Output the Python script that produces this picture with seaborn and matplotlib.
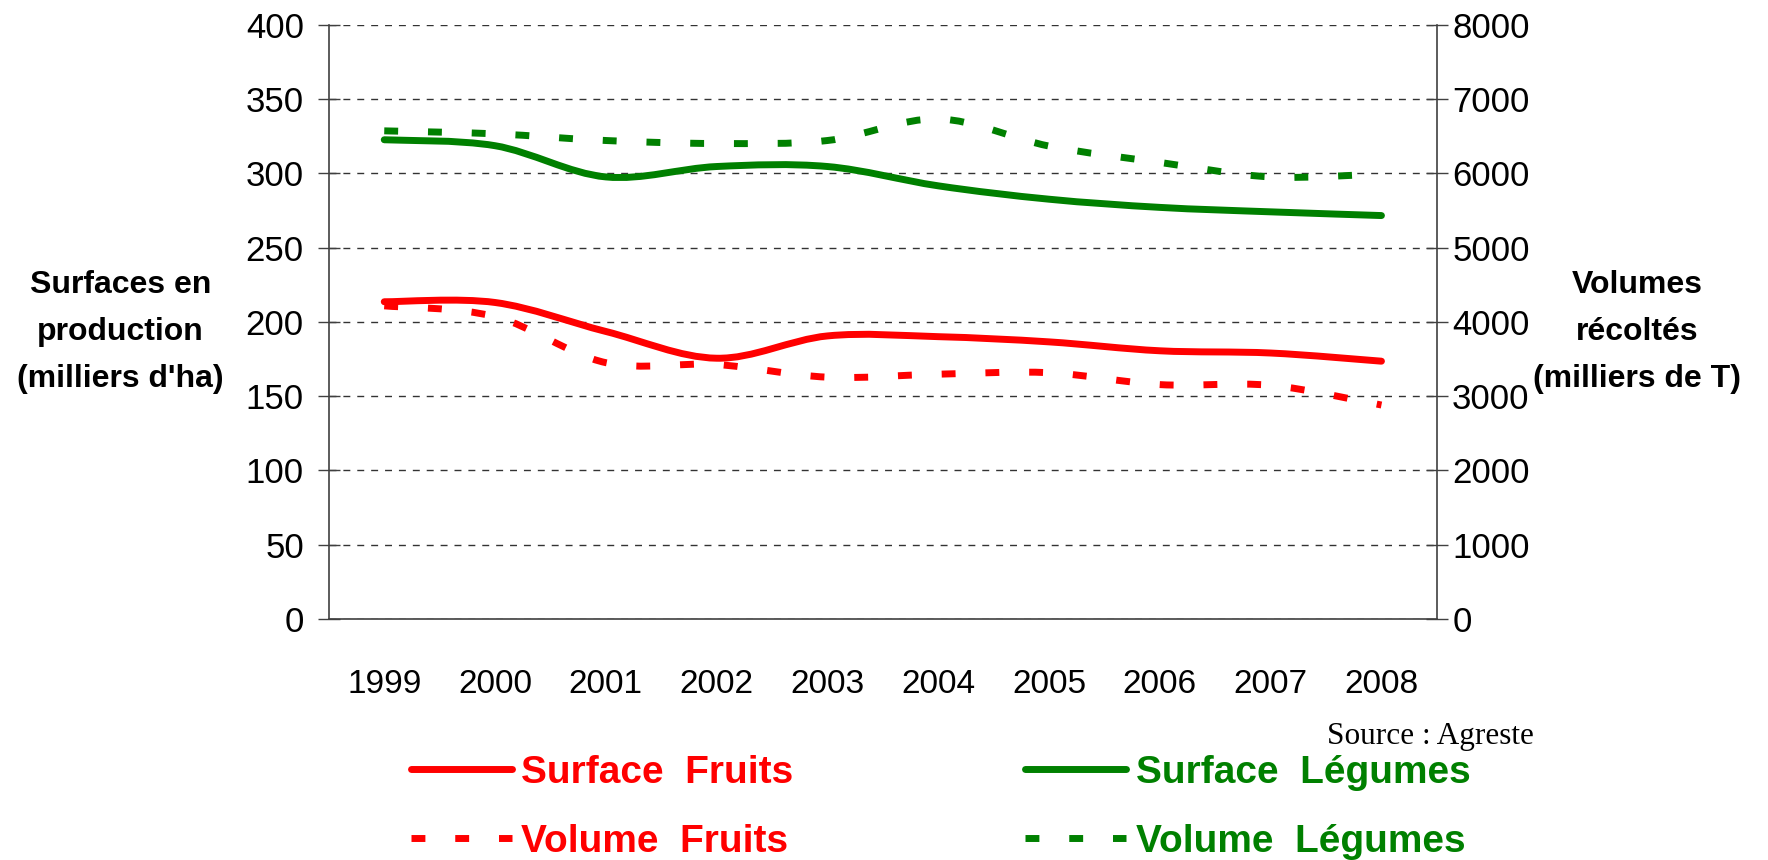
import numpy as np
import matplotlib
matplotlib.use("Agg")
import matplotlib.pyplot as plt
import seaborn as sns
from matplotlib.path import Path
from matplotlib.patches import PathPatch
from matplotlib.lines import Line2D

# valeurs
years = ["1999", "2000", "2001", "2002", "2003", "2004", "2005", "2006", "2007", "2008"]
surface_fruits = [213.5, 213, 193.5, 175.5, 190.5, 190, 186.5, 180.5, 179, 173.5]
surface_legumes = [322.5, 318.5, 297.5, 304.5, 304.5, 291.5, 282.5, 277, 274, 271.5]
volume_fruits = [4215, 4070, 3450, 3425, 3255, 3295, 3315, 3155, 3145, 2880]
volume_legumes = [6570, 6530, 6440, 6400, 6440, 6730, 6365, 6145, 5950, 5990]

RED = "#FF0000"
GREEN = "#008000"
DASH = (0, (2.0, 4.3))
LW = 5.0


def smooth_line(ax, values, color, ls="-"):
    # courbe lissée (style Excel) passant par les points
    x = np.arange(len(values), dtype=float)
    y = np.asarray(values, dtype=float)
    pts = np.column_stack([x, y])
    ext = np.vstack([pts[0], pts, pts[-1]])
    verts = [pts[0]]
    codes = [Path.MOVETO]
    for i in range(len(pts) - 1):
        p0, p1, p2, p3 = ext[i], ext[i + 1], ext[i + 2], ext[i + 3]
        verts += [p1 + (p2 - p0) / 6, p2 - (p3 - p1) / 6, p2]
        codes += [Path.CURVE4] * 3
    patch = PathPatch(Path(verts, codes), fill=False, edgecolor=color, lw=LW,
                      linestyle=ls, capstyle="round" if ls == "-" else "butt",
                      joinstyle="round", transform=ax.transData, zorder=3)
    ax.add_patch(patch)


sns.set_theme(style="white")
plt.rcParams["font.family"] = ["Liberation Sans", "DejaVu Sans"]
plt.rcParams["text.color"] = "black"

fig = plt.figure(figsize=(17.68, 8.6), dpi=100)
ax = fig.add_axes([0.186, 0.2802, 0.6267, 0.6912])
ax2 = ax.twinx()

smooth_line(ax, surface_fruits, RED)
smooth_line(ax, surface_legumes, GREEN)
smooth_line(ax2, volume_fruits, RED, DASH)
smooth_line(ax2, volume_legumes, GREEN, DASH)

ax.set_xlim(-0.5, len(years) - 0.5)
ax.set_ylim(0, 400)
ax2.set_ylim(0, 8000)
ax.set_yticks(np.arange(0, 401, 50))
ax2.set_yticks(np.arange(0, 8001, 1000))

ax.set_xticks(np.arange(-0.5, len(years), 1))
ax.set_xticklabels([])
ax.set_xticks(np.arange(len(years)), minor=True)
ax.set_xticklabels(years, minor=True)
ax.tick_params(axis="x", which="major", direction="out", length=10, width=1, color="#404040")
ax.tick_params(axis="x", which="minor", length=0, pad=36, labelsize=24, labelcolor="black")
ax.tick_params(axis="y", direction="inout", length=16, width=1, color="#404040",
               labelsize=25, pad=10, left=True, labelcolor="black")
ax2.tick_params(axis="y", direction="inout", length=16, width=1, color="#404040",
                labelsize=25, pad=3, right=True, labelcolor="black")

ax.yaxis.grid(True, linestyle=(0, (5, 5)), color="#333333", lw=1)
ax.xaxis.grid(False)

for a in (ax, ax2):
    a.spines["top"].set_visible(False)
    for s in a.spines.values():
        s.set_color("#404040")
        s.set_linewidth(1.2)
ax.spines["right"].set_visible(False)
ax2.spines["left"].set_visible(False)
ax2.spines["bottom"].set_visible(False)

fig.text(0.068, 0.614, "Surfaces en\nproduction\n(milliers d'ha)", ha="center", va="center",
         fontsize=23, fontweight="bold", linespacing=1.75)
fig.text(0.926, 0.614, "Volumes\nrécoltés\n(milliers de T)", ha="center", va="center",
         fontsize=23, fontweight="bold", linespacing=1.75)
fig.text(0.8676, 0.144, "Source : Agreste", ha="right", va="center",
         family="Liberation Serif", fontsize=22.5)

handles = [
    Line2D([], [], color=RED, lw=LW, solid_capstyle="round"),
    Line2D([], [], color=RED, lw=LW, linestyle=DASH, dash_capstyle="butt"),
    Line2D([], [], color=GREEN, lw=LW, solid_capstyle="round"),
    Line2D([], [], color=GREEN, lw=LW, linestyle=DASH, dash_capstyle="butt"),
]
labels = ["Surface  Fruits", "Volume  Fruits", "Surface  Légumes", "Volume  Légumes"]
fig.legend(handles, labels, ncol=2, loc="center", bbox_to_anchor=(0.532, 0.061),
           frameon=False, prop={"weight": "bold", "size": 28}, handlelength=2.6,
           handletextpad=0.25, columnspacing=5.95, labelspacing=0.85, labelcolor="linecolor",
           borderpad=0)

fig.savefig("out.png", dpi=100)
